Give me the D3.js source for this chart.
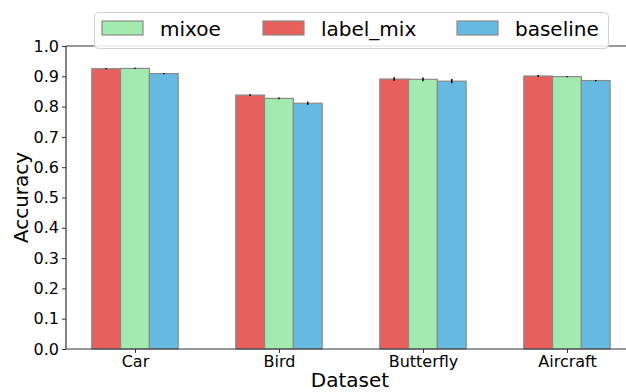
<html>
<head>
<meta charset="utf-8">
<script src="https://d3js.org/d3.v7.min.js"></script>
<style>
body { margin: 0; background: #fff; }
text { font-family: "DejaVu Sans", sans-serif; fill: #000; }
</style>
</head>
<body>
<div id="chart"></div>
<script>
var datasets = ["Car", "Bird", "Butterfly", "Aircraft"];
var methods = ["label_mix", "mixoe", "baseline"];
var legendOrder = ["mixoe", "label_mix", "baseline"];
var labelMix = [0.925, 0.838, 0.891, 0.901];
var labelMixErr = [0.002, 0.003, 0.006, 0.003];
var mixoe = [0.926, 0.827, 0.890, 0.899];
var mixoeErr = [0.002, 0.003, 0.006, 0.002];
var baseline = [0.909, 0.811, 0.884, 0.886];
var baselineErr = [0.002, 0.005, 0.007, 0.002];
var yTicks = [0.0, 0.1, 0.2, 0.3, 0.4, 0.5, 0.6, 0.7, 0.8, 0.9, 1.0];

var values = { label_mix: labelMix, mixoe: mixoe, baseline: baseline };
var errors = { label_mix: labelMixErr, mixoe: mixoeErr, baseline: baselineErr };
var color = { label_mix: "#e8605e", mixoe: "#a3eaaf", baseline: "#66bae2" };

var W = 626, H = 392;
var mLeft = 66, mRight = 626, mTop = 46, mBottom = 349;

var svg = d3.select("#chart").append("svg").attr("width", W).attr("height", H);

// x in "group units": group i centred at i, bars 0.2 wide
var x = d3.scaleLinear().domain([-0.479, 3.41]).range([mLeft, mRight]);
var y = d3.scaleLinear().domain([0, 1]).range([mBottom, mTop]);
var barW = 0.2;

var rows = [];
datasets.forEach(function(d, i) {
  methods.forEach(function(m, j) {
    rows.push({ ds: d, i: i, m: m, off: (j - 1) * barW, v: values[m][i], e: errors[m][i] });
  });
});

svg.append("g").selectAll("rect").data(rows).enter().append("rect")
  .attr("x", function(d) { return x(d.i + d.off - barW / 2); })
  .attr("y", function(d) { return y(d.v); })
  .attr("width", function(d) { return x(barW) - x(0); })
  .attr("height", function(d) { return y(0) - y(d.v); })
  .attr("fill", function(d) { return color[d.m]; })
  .attr("stroke", "#8a8a8a")
  .attr("stroke-width", 1.2);

svg.append("g").selectAll("line").data(rows).enter().append("line")
  .attr("x1", function(d) { return x(d.i + d.off); })
  .attr("x2", function(d) { return x(d.i + d.off); })
  .attr("y1", function(d) { return y(d.v - d.e); })
  .attr("y2", function(d) { return y(d.v + d.e); })
  .attr("stroke", "#000").attr("stroke-width", 1.5);

// axes
var yAxis = svg.append("g").attr("transform", "translate(" + mLeft + ",0)")
  .call(d3.axisLeft(y).tickValues(yTicks).tickFormat(d3.format(".1f")).tickSize(4).tickPadding(3));
var xAxis = svg.append("g").attr("transform", "translate(0," + mBottom + ")")
  .call(d3.axisBottom(x).tickValues(d3.range(datasets.length)).tickFormat(function(d) { return datasets[d]; }).tickSize(4).tickPadding(3));
[yAxis, xAxis].forEach(function(a) {
  a.selectAll("text").style("font-size", "16px").style("font-family", "DejaVu Sans");
  a.selectAll("line").attr("stroke", "#333");
  a.select(".domain").attr("stroke", "#333").attr("stroke-width", 1.2);
});
xAxis.select(".domain").attr("d", "M" + mLeft + ",0H" + mRight);
yAxis.select(".domain").attr("d", "M0," + mTop + "V" + mBottom);
svg.append("line").attr("x1", mLeft).attr("x2", mRight).attr("y1", mTop).attr("y2", mTop)
  .attr("stroke", "#333").attr("stroke-width", 1.2);

svg.append("text").attr("x", (mLeft + mRight) / 2 + 4).attr("y", 387)
  .attr("text-anchor", "middle").style("font-size", "20px").text("Dataset");
svg.append("text").attr("transform", "translate(28," + ((mTop + mBottom) / 2) + ") rotate(-90)")
  .attr("text-anchor", "middle").style("font-size", "20px").text("Accuracy");

// legend
var lg = svg.append("g");
lg.append("rect").attr("x", 94.5).attr("y", 12.5).attr("width", 514).attr("height", 36)
  .attr("rx", 4).attr("fill", "#fff").attr("fill-opacity", 0.85)
  .attr("stroke", "#d0d0d0").attr("stroke-width", 1);
var legX = [102, 263, 457];
legendOrder.forEach(function(m, k) {
  lg.append("rect").attr("x", legX[k]).attr("y", 21).attr("width", 41).attr("height", 14)
    .attr("fill", color[m]).attr("stroke", "#8a8a8a").attr("stroke-width", 1.2);
  lg.append("text").attr("x", legX[k] + 58).attr("y", 36).style("font-size", "20px").text(m);
});
</script>
</body>
</html>
